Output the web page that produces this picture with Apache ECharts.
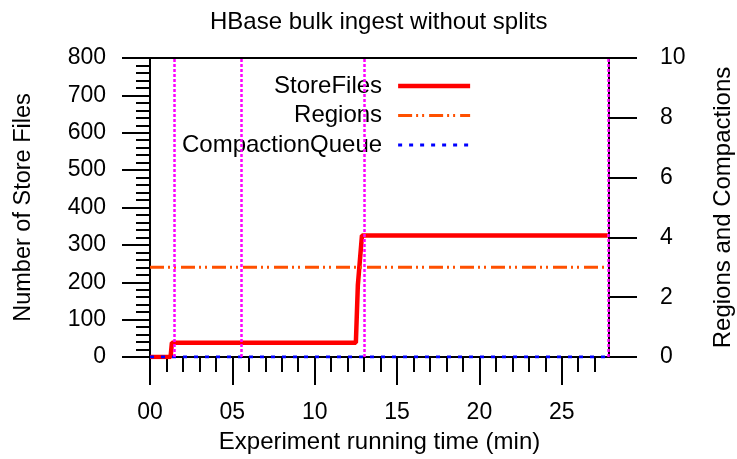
<!DOCTYPE html>
<html>
<head>
<meta charset="utf-8">
<script src="https://cdn.jsdelivr.net/npm/echarts@6/dist/echarts.min.js"></script>
<style>html,body{margin:0;padding:0;background:#fff}#c{width:737px;height:459px}</style>
</head>
<body>
<div id="c"></div>
<script>
// ---- data ----
var titleText = 'HBase bulk ingest without splits';
var xName = 'Experiment running time (min)';
var yLeftName = 'Number of Store Files';
var yRightName = 'Regions and Compactions';
var xMax = 27.87;
var xTickValues = [0, 5, 10, 15, 20, 25];
var xTickLabels = ['00', '05', '10', '15', '20', '25'];
var xMinorTickValues = [1, 2, 3, 4, 6, 7, 8, 9, 11, 12, 13, 14, 16, 17, 18, 19, 21, 22, 23, 24, 26, 27];
// StoreFiles (left axis)
var storeTime  = [0, 1.25, 1.33, 12.5, 12.62, 12.87, 27.8];
var storeFiles = [0, 0,    38,   38,   192,   325,   325];
// Regions (right axis)
var regionTime   = [0, 27.8];
var regionValues = [3, 3];
// CompactionQueue (right axis)
var queueTime   = [0, 27.8];
var queueValues = [0, 0];
// vertical event markers (min)
var eventTimes = [1.5, 5.57, 13.0, 27.8];

function pairs(xs, ys) { return xs.map(function (x, i) { return [x, ys[i]]; }); }

var FONT = 'Liberation Sans';
var chart = echarts.init(document.getElementById('c'), null, { renderer: 'canvas' });
var labelMap = {};
xTickValues.forEach(function (v, i) { labelMap[v] = xTickLabels[i]; });

chart.setOption({
  animation: false,
  backgroundColor: '#fff',
  textStyle: { fontFamily: FONT },
  title: {
    text: titleText, left: 210, top: 10, padding: 0,
    textStyle: { fontFamily: FONT, fontSize: 24, fontWeight: 'normal', color: '#000' }
  },
  grid: { left: 150, right: 128, top: 58, bottom: 102, show: true, borderColor: '#000', borderWidth: 2,
    containLabel: false, outerBoundsMode: 'none' },
  legend: {
    orient: 'vertical', align: 'right', left: 177, top: 69, itemWidth: 72, itemHeight: 14, itemGap: 5.5,
    textStyle: { fontFamily: FONT, fontSize: 24, color: '#000', padding: [0, 11, 0, 0] },
    lineStyle: { width: 'inherit', type: 'inherit' },
    itemStyle: { opacity: 0 },
    data: ['StoreFiles', 'Regions', 'CompactionQueue']
  },
  xAxis: [{
    type: 'value', min: 0, max: xMax, position: 'bottom',
    name: xName, nameLocation: 'middle', nameGap: 73,
    nameTextStyle: { fontFamily: FONT, fontSize: 24, color: '#000' },
    axisLine: { show: true, onZero: false, lineStyle: { color: '#000', width: 2 } },
    axisTick: { show: true, inside: false, length: 28, customValues: xTickValues, lineStyle: { color: '#000', width: 2 } },
    axisLabel: { show: true, margin: 44, customValues: xTickValues, fontFamily: FONT, fontSize: 23, color: '#000',
      formatter: function (v) { return labelMap[v] !== undefined ? labelMap[v] : ''; } },
    splitLine: { show: false }
  }, {
    type: 'value', min: 0, max: xMax, position: 'bottom', gridIndex: 0,
    axisLine: { show: false, onZero: false },
    axisTick: { show: true, inside: false, length: 15, customValues: xMinorTickValues, lineStyle: { color: '#000', width: 2 } },
    axisLabel: { show: false },
    splitLine: { show: false }
  }],
  yAxis: [{
    type: 'value', min: 0, max: 800, interval: 100, position: 'left',
    name: yLeftName, nameLocation: 'middle', nameGap: 114,
    nameTextStyle: { fontFamily: FONT, fontSize: 23.5, color: '#000' },
    axisLine: { show: true, onZero: false, lineStyle: { color: '#000', width: 2 } },
    axisTick: { show: true, inside: false, length: 28, lineStyle: { color: '#000', width: 2 } },
    minorTick: { show: true, splitNumber: 5, length: 14, lineStyle: { color: '#000', width: 2 } },
    axisLabel: { margin: 44, fontFamily: FONT, fontSize: 23, color: '#000' },
    splitLine: { show: false }, minorSplitLine: { show: false }
  }, {
    type: 'value', min: 0, max: 10, interval: 2, position: 'right',
    name: yRightName, nameLocation: 'middle', nameGap: 102,
    nameTextStyle: { fontFamily: FONT, fontSize: 24, color: '#000' },
    axisLine: { show: true, onZero: false, lineStyle: { color: '#000', width: 2 } },
    axisTick: { show: true, inside: false, length: 28, lineStyle: { color: '#000', width: 2 } },
    axisLabel: { margin: 51, fontFamily: FONT, fontSize: 23, color: '#000' },
    splitLine: { show: false }
  }],
  series: [{
    name: 'StoreFiles', type: 'line', xAxisIndex: 0, yAxisIndex: 0, symbol: 'none', z: 2,
    data: pairs(storeTime, storeFiles),
    lineStyle: { color: '#ff0000', width: 4.5 }, itemStyle: { color: '#ff0000' }
  }, {
    name: 'Regions', type: 'line', xAxisIndex: 0, yAxisIndex: 1, symbol: 'none', z: 3,
    data: pairs(regionTime, regionValues),
    lineStyle: { color: '#ff5000', width: 3, type: [14, 4, 2, 4, 2, 5] }, itemStyle: { color: '#ff5000' }
  }, {
    name: 'CompactionQueue', type: 'line', xAxisIndex: 0, yAxisIndex: 1, symbol: 'none', z: 4,
    data: pairs(queueTime, queueValues),
    lineStyle: { color: '#0000ff', width: 3, type: [4, 7] }, itemStyle: { color: '#0000ff' }
  }, {
    name: 'events', type: 'line', xAxisIndex: 0, yAxisIndex: 0, data: [], z: 5,
    markLine: {
      silent: true, symbol: ['none', 'none'], label: { show: false },
      lineStyle: { color: '#ff00ff', width: 2.5, type: [3, 2] },
      data: eventTimes.map(function (t) { return { xAxis: t }; })
    }
  }]
});
</script>
</body>
</html>
